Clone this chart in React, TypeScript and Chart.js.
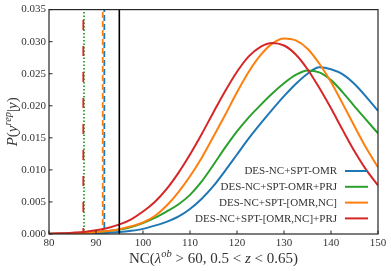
import React, { useEffect, useRef } from "react";
import { Chart, registerables } from "chart.js";

Chart.register(...registerables);

// NC values (x axis)
const nc = [80, 82.5, 85, 87.5, 90, 92.5, 95, 97.5, 100, 102.5, 105, 107.5, 110, 112.5, 115, 117.5, 120, 122.5, 125, 127.5, 130, 132.5, 135, 137.5, 140, 142.5, 145, 147.5, 150];

// P(y_rep | y) for each model
const omr = [0.00001, 0.00002, 0.00004, 0.00008, 0.00013, 0.0002, 0.0003, 0.0005, 0.0008, 0.0013, 0.0019, 0.0027, 0.0039, 0.0055, 0.0075, 0.0099, 0.0124, 0.0149, 0.0172, 0.0194, 0.0215, 0.0234, 0.0250, 0.0260, 0.0257, 0.0249, 0.0234, 0.0214, 0.0192];
const omrPrj = [0.00003, 0.00005, 0.0001, 0.00018, 0.0003, 0.00048, 0.0007, 0.0011, 0.0017, 0.0025, 0.0035, 0.0046, 0.0061, 0.0082, 0.0108, 0.0135, 0.0160, 0.0182, 0.0201, 0.0219, 0.0235, 0.0248, 0.0255, 0.0252, 0.0240, 0.0221, 0.0199, 0.0178, 0.0157];
const omrNc = [0.00002, 0.00004, 0.00008, 0.00015, 0.00027, 0.00045, 0.00075, 0.0012, 0.0018, 0.0028, 0.0044, 0.0065, 0.0090, 0.0119, 0.0152, 0.0186, 0.0221, 0.0253, 0.0279, 0.0297, 0.0305, 0.0302, 0.0289, 0.0266, 0.0237, 0.0203, 0.0168, 0.0134, 0.0104];
const omrNcPrj = [0.00005, 0.0001, 0.0002, 0.00033, 0.00057, 0.00095, 0.0015, 0.0023, 0.0035, 0.0050, 0.0070, 0.0095, 0.0124, 0.0156, 0.0190, 0.0223, 0.0253, 0.0277, 0.0292, 0.0298, 0.0294, 0.0280, 0.0257, 0.0228, 0.0196, 0.0162, 0.0129, 0.0100, 0.0076];

const seriesLabels = ["DES-NC+SPT-OMR", "DES-NC+SPT-OMR+PRJ", "DES-NC+SPT-[OMR,NC]", "DES-NC+SPT-[OMR,NC]+PRJ"];
const seriesColors = ["#1f77b4", "#2ca02c", "#ff7f0e", "#d62728"];
const seriesValues = [omr, omrPrj, omrNc, omrNcPrj];

// observed / reference vertical lines
const observedNC = 94.96;
const modelNC = [91.77, 87.45, 91.43, 87.3];
const modelDash = [[6, 3], [1.5, 2], [6, 3], [10, 16]];
const modelDashOffset = [3, 0, 0, 4];

const xTickValues = [80, 90, 100, 110, 120, 130, 140, 150];
const yTickValues = [0, 0.005, 0.01, 0.015, 0.02, 0.025, 0.03, 0.035];

const FONT = "'Liberation Serif', 'Times New Roman', serif";
const TEXT = "#333333";
const SPINE = "#262626";

type Part = { t: string; it?: boolean; sup?: boolean };

function drawRich(ctx: CanvasRenderingContext2D, parts: Part[], cx: number, cy: number, size: number) {
  const supSize = size * 0.7;
  const fontOf = (p: Part) => `${p.it ? "italic " : ""}${p.sup ? supSize : size}px ${FONT}`;
  const widths = parts.map((p) => {
    ctx.font = fontOf(p);
    return ctx.measureText(p.t).width;
  });
  const total = widths.reduce((a, b) => a + b, 0);
  let x = cx - total / 2;
  ctx.textAlign = "left";
  ctx.textBaseline = "alphabetic";
  parts.forEach((p, i) => {
    ctx.font = fontOf(p);
    ctx.fillText(p.t, x, cy + size * 0.35 + (p.sup ? -size * 0.42 : 0));
    x += widths[i];
  });
}

const xTitle: Part[] = [
  { t: "NC(" },
  { t: "λ", it: true },
  { t: "ob", it: true, sup: true },
  { t: " > 60, 0.5 < " },
  { t: "z", it: true },
  { t: " < 0.65)" },
];
const yTitle: Part[] = [
  { t: "P", it: true },
  { t: "(" },
  { t: "y", it: true },
  { t: "rep", it: true, sup: true },
  { t: "|" },
  { t: "y", it: true },
  { t: ")" },
];

const decorPlugin = {
  id: "decor",
  afterDraw(chart: any) {
    const { ctx, chartArea } = chart;
    const { left, right, top, bottom } = chartArea;
    const xs = chart.scales.x;
    const ys = chart.scales.y;
    ctx.save();
    // frame
    ctx.strokeStyle = SPINE;
    ctx.lineWidth = 1.2;
    ctx.strokeRect(left, top, right - left, bottom - top);
    // inward ticks
    ctx.lineWidth = 1;
    xTickValues.forEach((v) => {
      const px = xs.getPixelForValue(v);
      ctx.beginPath();
      ctx.moveTo(px, bottom);
      ctx.lineTo(px, bottom - 3.5);
      ctx.stroke();
    });
    yTickValues.forEach((v) => {
      const py = ys.getPixelForValue(v);
      ctx.beginPath();
      ctx.moveTo(left, py);
      ctx.lineTo(left + 3.5, py);
      ctx.stroke();
    });
    // titles
    ctx.fillStyle = TEXT;
    drawRich(ctx, xTitle, (left + right) / 2, 258, 15);
    ctx.save();
    ctx.translate(12, (top + bottom) / 2);
    ctx.rotate(-Math.PI / 2);
    drawRich(ctx, yTitle, 0, 0, 15);
    ctx.restore();
    // legend
    seriesLabels.forEach((label, i) => {
      const y = bottom - 63 + i * 15.8;
      ctx.font = `11px ${FONT}`;
      ctx.fillStyle = TEXT;
      ctx.textAlign = "right";
      ctx.textBaseline = "middle";
      ctx.fillText(label, right - 41, y + 0.5);
      ctx.strokeStyle = seriesColors[i];
      ctx.lineWidth = 2;
      ctx.setLineDash([]);
      ctx.beginPath();
      ctx.moveTo(right - 33, y);
      ctx.lineTo(right - 10, y);
      ctx.stroke();
    });
    ctx.restore();
  },
};

export default function App() {
  const canvasRef = useRef<HTMLCanvasElement | null>(null);

  useEffect(() => {
    if (!canvasRef.current) return;
    const datasets: any[] = [];
    seriesValues.forEach((vals, i) => {
      datasets.push({
        label: seriesLabels[i],
        data: nc.map((x, j) => ({ x, y: vals[j] })),
        borderColor: seriesColors[i],
        borderWidth: 2,
        pointRadius: 0,
        cubicInterpolationMode: "monotone",
        fill: false,
        order: 10 - i,
      });
    });
    modelNC.forEach((v, i) => {
      datasets.push({
        label: seriesLabels[i] + " obs",
        data: [
          { x: v, y: 0 },
          { x: v, y: 0.035 },
        ],
        borderColor: seriesColors[i],
        borderWidth: 1.8,
        borderDash: modelDash[i],
        borderDashOffset: modelDashOffset[i],
        pointRadius: 0,
        fill: false,
        order: 20 - i,
      });
    });
    datasets.push({
      label: "observed",
      data: [
        { x: observedNC, y: 0 },
        { x: observedNC, y: 0.035 },
      ],
      borderColor: "#000000",
      borderWidth: 1.6,
      pointRadius: 0,
      fill: false,
      order: 5,
    });

    const chart = new Chart(canvasRef.current, {
      type: "line",
      data: { datasets },
      options: {
        animation: false,
        responsive: false,
        layout: { padding: { top: 9, right: 13, left: 0, bottom: 0 } },
        plugins: { legend: { display: false }, tooltip: { enabled: false } },
        scales: {
          x: {
            type: "linear",
            min: 80,
            max: 150,
            afterFit: (s: any) => {
              s.height = 37;
            },
            afterBuildTicks: (s: any) => {
              s.ticks = xTickValues.map((v) => ({ value: v }));
            },
            grid: { display: false, drawTicks: false },
            border: { display: false },
            ticks: {
              padding: 3,
              color: TEXT,
              font: { family: FONT, size: 11 },
              maxRotation: 0,
              callback: (v: any) => String(v),
            },
          },
          y: {
            type: "linear",
            min: 0,
            max: 0.035,
            afterFit: (s: any) => {
              s.width = 49;
            },
            afterBuildTicks: (s: any) => {
              s.ticks = yTickValues.map((v) => ({ value: v }));
            },
            grid: { display: false, drawTicks: false },
            border: { display: false },
            ticks: {
              padding: 3,
              color: TEXT,
              font: { family: FONT, size: 11 },
              callback: (v: any) => Number(v).toFixed(3),
            },
          },
        },
      },
      plugins: [decorPlugin],
    } as any);
    return () => chart.destroy();
  }, []);

  return (
    <div style={{ position: "absolute", left: 0, top: 0, width: 391, height: 271, background: "#fff" }}>
      <canvas ref={canvasRef} width={391} height={271} style={{ display: "block" }} />
    </div>
  );
}
